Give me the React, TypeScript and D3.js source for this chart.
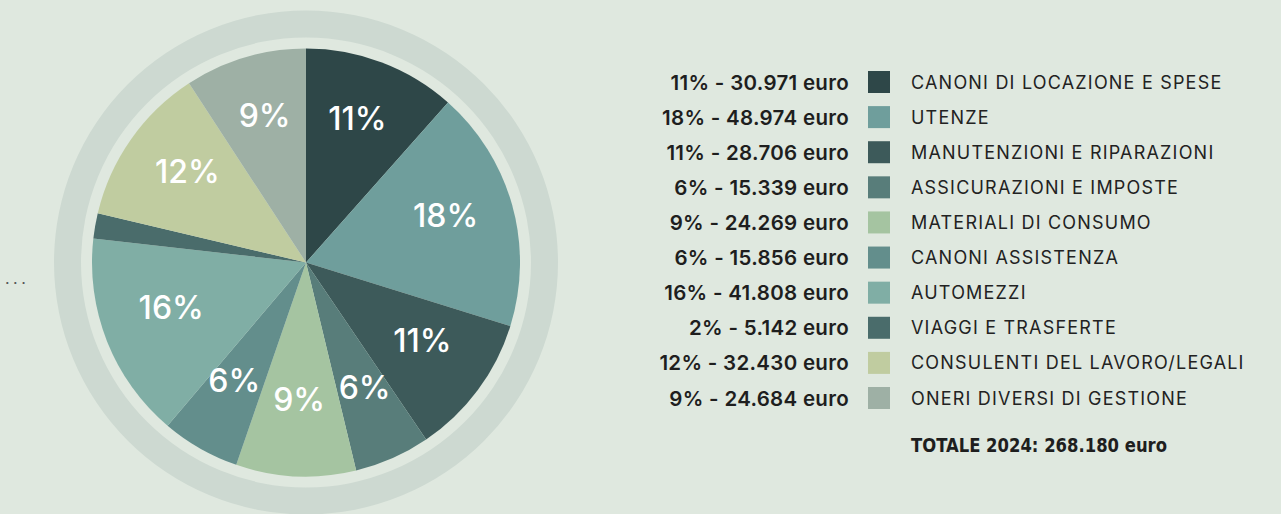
import React from "react";
import * as d3 from "d3";

const categories = [
  "CANONI DI LOCAZIONE E SPESE",
  "UTENZE",
  "MANUTENZIONI E RIPARAZIONI",
  "ASSICURAZIONI E IMPOSTE",
  "MATERIALI DI CONSUMO",
  "CANONI ASSISTENZA",
  "AUTOMEZZI",
  "VIAGGI E TRASFERTE",
  "CONSULENTI DEL LAVORO/LEGALI",
  "ONERI DIVERSI DI GESTIONE",
];
const values = [30971, 48974, 28706, 15339, 24269, 15856, 41808, 5142, 32430, 24684];
const percents = [11, 18, 11, 6, 9, 6, 16, 2, 12, 9];
const valueLabels = [
  "30.971", "48.974", "28.706", "15.339", "24.269",
  "15.856", "41.808", "5.142", "32.430", "24.684",
];
const colors = [
  "#2e4748", "#6f9e9c", "#3d5a5a", "#587d7a", "#a5c4a1",
  "#638e8c", "#80aea5", "#4a6c6b", "#c0cca0", "#9eb0a5",
];
const totalLabel = "TOTALE 2024: 268.180 euro";

const W = 1281;
const H = 514;

export default function App() {
  const cx = 306;
  const cy = 262.5;
  const R = 214;
  const pie = d3.pie<number>().sort(null).value((d) => d);
  const arcs = pie(values);
  const arc = d3.arc<d3.PieArcDatum<number>>().innerRadius(0).outerRadius(R);
  const labelArc = d3.arc<d3.PieArcDatum<number>>().innerRadius(145).outerRadius(145);
  const ring = d3.arc()({ innerRadius: 225, outerRadius: 252, startAngle: 0, endAngle: 2 * Math.PI } as any) as string;

  const rowY = d3.scaleLinear().domain([0, 9]).range([82, 398]);
  const font = "Inter, 'Noto Sans', sans-serif";

  return (
    <svg width={W} height={H} style={{ position: "absolute", left: 0, top: 0, display: "block" }}>
      <rect width={W} height={H} fill="#dfe8df" />
      <text x={5} y={284} fontSize={16} fill="#555" fontFamily={font} letterSpacing={3.5}>...</text>
      <g transform={`translate(${cx},${cy})`}>
        <path d={ring} fill="#cdd9d1" />
        {arcs.map((a, i) => (
          <path key={i} d={arc(a) as string} fill={colors[i]} />
        ))}
        {arcs.map((a, i) => {
          if (percents[i] < 5) return null;
          const [x, y] = labelArc.centroid(a);
          return (
            <text
              key={"l" + i}
              x={x}
              y={y - 8}
              textAnchor="middle"
              dominantBaseline="central"
              fill="#ffffff"
              fontSize={32}
              fontWeight={500}
              fontFamily={font}
            >
              {percents[i]}%
            </text>
          );
        })}
      </g>
      <g>
        {categories.map((c, i) => (
          <g key={c} transform={`translate(0,${rowY(i)})`}>
            <text
              x={849}
              y={0}
              textAnchor="end"
              dominantBaseline="central"
              fontSize={20.5}
              fontWeight={600}
              fill="#1e1e1e"
              fontFamily={font}
              letterSpacing={0.3}
            >
              {`${percents[i]}% - ${valueLabels[i]} euro`}
            </text>
            <rect x={868} y={-11} width={22} height={22} fill={colors[i]} />
            <text
              x={911}
              y={0}
              dominantBaseline="central"
              fontSize={18}
              fill="#222"
              fontFamily={font}
              letterSpacing={1.2}
            >
              {c}
            </text>
          </g>
        ))}
        <text
          x={911}
          y={445}
          dominantBaseline="central"
          fontSize={19}
          fontWeight={700}
          fill="#1e1e1e"
          fontFamily="'DejaVu Sans Condensed', 'Roboto', sans-serif"
          style={{ fontStretch: "condensed" }}
          textLength={256}
          lengthAdjust="spacingAndGlyphs"
        >
          {totalLabel}
        </text>
      </g>
    </svg>
  );
}
